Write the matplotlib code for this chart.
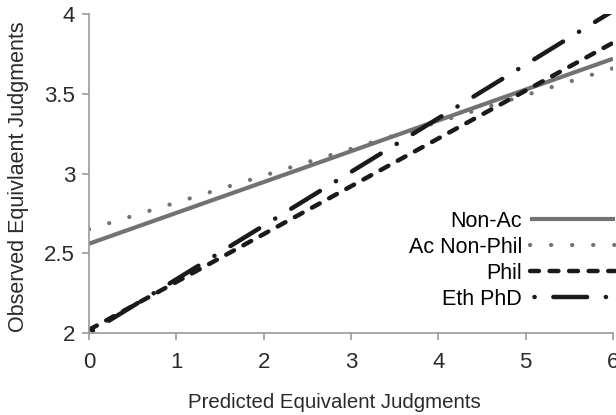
import numpy as np
import matplotlib
matplotlib.use('Agg')
import matplotlib.pyplot as plt

plt.rcParams['font.family'] = ['Liberation Sans', 'DejaVu Sans']

# endpoints of each fitted line (x = 0 and x = 6)
x_ends = [0, 6]
non_ac = [2.56, 3.72]
ac_non_phil = [2.65, 3.66]
phil = [2.02, 3.82]
eth_phd = [2.00, 4.02]

x_ticks = [0, 1, 2, 3, 4, 5, 6]
y_ticks = [2, 2.5, 3, 3.5, 4]
y_tick_labels = ['2', '2.5', '3', '3.5', '4']

fig = plt.figure(figsize=(6.16, 4.15), dpi=100)
ax = fig.add_axes([0.1445, 0.1976, 0.8505, 0.7684])

ax.plot(x_ends, non_ac, color='#727272', lw=3.0, solid_capstyle='butt', label='Non-Ac')
ax.plot(x_ends, ac_non_phil, color='#727272', lw=3.0, linestyle=(0, (0.05, 5.0)),
        dash_capstyle='round', label='Ac Non-Phil')
ax.plot(x_ends, phil, color='#1a1a1a', lw=3.2, linestyle=(0, (2.0, 2.4)),
        dash_capstyle='round', label='Phil')
ax.plot(x_ends, eth_phd, color='#1a1a1a', lw=3.2, linestyle=(10.8, (7.6, 4.2, 0.05, 4.2)),
        dash_capstyle='round', label='Eth PhD')

ax.set_xlim(0, 6)
ax.set_ylim(2, 4)
ax.set_xticks(x_ticks)
ax.set_yticks(y_ticks)
ax.set_yticklabels(y_tick_labels)

for s in ['top', 'right']:
    ax.spines[s].set_visible(False)
for s in ['left', 'bottom']:
    ax.spines[s].set_color('#9a9a9a')
    ax.spines[s].set_linewidth(1.2)
ax.tick_params(colors='#9a9a9a', labelcolor='#2a2a2a', labelsize=16, length=5, width=1.2)
ax.tick_params(axis='x', pad=9)
ax.tick_params(axis='y', pad=5)

ax.set_xlabel('Predicted Equivalent Judgments', fontsize=14.7, color='#2a2a2a')
ax.set_ylabel('Observed Equivlaent Judgments', fontsize=15.5, color='#2a2a2a')
ax.xaxis.set_label_coords(0.4676, -0.188)
ax.yaxis.set_label_coords(-0.114, 0.49)

ax.legend(loc='center right', bbox_to_anchor=(1.004, 0.228), frameon=False, fontsize=15.5,
          markerfirst=False, handlelength=3.95, handletextpad=0.37, labelspacing=0.23,
          borderaxespad=0, borderpad=0)

fig.savefig('out.png', dpi=100)
